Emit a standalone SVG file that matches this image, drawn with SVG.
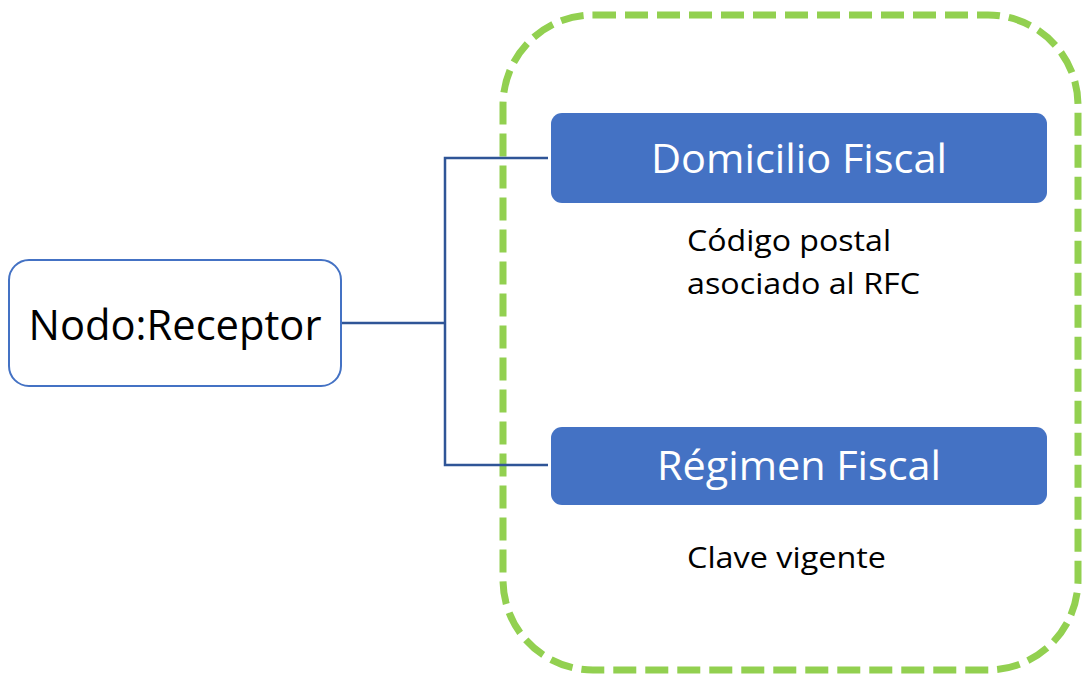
<svg xmlns="http://www.w3.org/2000/svg" width="1082" height="676" viewBox="0 0 1082 676">
<style>
.t{font-family:"Open Sans","Liberation Sans",sans-serif}
.blue{fill:#4472C4}
.wt{fill:#fff;font-size:40px;text-anchor:middle}
.sub{fill:#000;font-size:30px}
.conn{fill:none;stroke:#2F5597;stroke-width:2.5}
</style>
<rect x="503" y="15" width="575" height="655" rx="90" ry="90" fill="none" stroke="#92D050" stroke-width="7" stroke-dasharray="23 9"/>
<g id="connectors">
<polyline class="conn" points="341,323 445,323"/>
<polyline class="conn" points="548,158 445,158 445,465 548,465"/>
</g>
<g id="receptor">
<rect x="9" y="260" width="332" height="126" rx="20" fill="#fff" stroke="#4472C4" stroke-width="2"/>
<text class="t" x="175" y="340" font-size="42" text-anchor="middle" fill="#000" textLength="293" lengthAdjust="spacingAndGlyphs">Nodo:Receptor</text>
</g>
<g id="domicilio">
<rect class="blue" x="551" y="113" width="496" height="90" rx="11"/>
<text class="t wt" x="799" y="173" textLength="296" lengthAdjust="spacingAndGlyphs">Domicilio Fiscal</text>
<text class="t sub" x="687" y="251" textLength="204" lengthAdjust="spacingAndGlyphs">Código postal</text>
<text class="t sub" x="687" y="294" textLength="233" lengthAdjust="spacingAndGlyphs">asociado al RFC</text>
</g>
<g id="regimen">
<rect class="blue" x="551" y="427" width="496" height="78" rx="11"/>
<text class="t wt" x="799" y="480" textLength="284" lengthAdjust="spacingAndGlyphs">Régimen Fiscal</text>
<text class="t sub" x="687" y="568" textLength="199" lengthAdjust="spacingAndGlyphs">Clave vigente</text>
</g>
</svg>
